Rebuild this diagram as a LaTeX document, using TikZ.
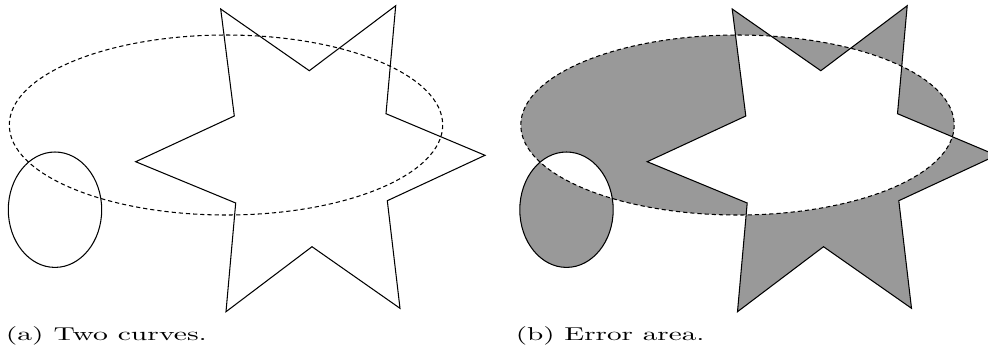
\documentclass[tikz,border=0pt]{standalone}
\usepackage{graphicx}
\begin{document}
\begin{tikzpicture}[x=0.571pt,y=-0.571pt,
  curve/.style={line width=0.6pt,line join=miter},
  dashcurve/.style={line width=0.6pt,dash pattern=on 2.4pt off 1.7pt},
  errfill/.style={fill=black!40,even odd rule},
  caption/.style={anchor=base west,inner sep=0pt,font=\fontsize{10.6}{13}\selectfont}]
\useasboundingbox (0,0) rectangle (988,356);
\def\starpath{(220.7,9) -- (309.3,70.7) -- (395.7,5.7) -- (386,113.7) -- (485,155.3) -- (387.3,200.7) -- (400,308.3) -- (312,246.7) -- (226,311.7) -- (235.7,203) -- (135.7,161.7) -- (234.3,116) -- cycle}
% (a) two curves
\begin{scope}
  \draw[dashcurve] (226,125) ellipse [x radius=216.7, y radius=90];
  \draw[curve] (55,209.7) ellipse [x radius=46.7, y radius=57.7];
  \draw[curve] \starpath;
\end{scope}
\node[caption] (capa) at (5.5,340) {\resizebox{114.8pt}{\height}{(a) Two curves.}};
% (b) error area
\begin{scope}[xshift=511.5*0.571pt]
  \fill[errfill] (226,125) ellipse [x radius=216.7, y radius=90]
                 (55,209.7) ellipse [x radius=46.7, y radius=57.7]
                 \starpath;
  \draw[dashcurve] (226,125) ellipse [x radius=216.7, y radius=90];
  \draw[curve] (55,209.7) ellipse [x radius=46.7, y radius=57.7];
  \draw[curve] \starpath;
\end{scope}
\node[caption] (capb) at (515.5,340) {\resizebox{107.7pt}{\height}{(b) Error area.}};
\end{tikzpicture}
\end{document}
